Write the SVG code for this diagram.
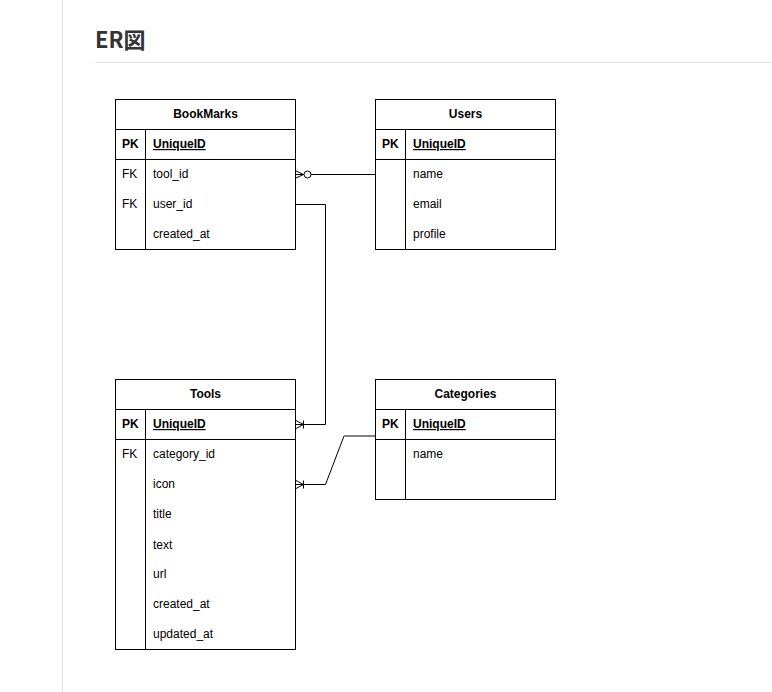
<svg xmlns="http://www.w3.org/2000/svg" width="772" height="692" viewBox="0 0 772 692">
<style>
.box{fill:#fff;stroke:#000;stroke-width:1}
.ln{stroke:#000;stroke-width:1;fill:none}
.t{font-family:"Liberation Sans",Arial,sans-serif;font-size:12px;fill:#000}
.b{font-weight:bold}
.h{font-family:"Liberation Sans",Arial,sans-serif;font-size:12px;font-weight:bold;fill:#000;text-anchor:middle}
.u{text-decoration:underline}
.edge{stroke:#000;stroke-width:1;fill:none}
</style>
<defs>
<marker id="zeroMany" markerUnits="userSpaceOnUse" markerWidth="20" markerHeight="12" refX="0" refY="6" orient="auto" viewBox="0 0 20 12" overflow="visible">
<path d="M0,2.5 L7.5,6 M0,9.5 L7.5,6 M0,6 L8,6" fill="none" stroke="#000" stroke-width="1"/>
<circle cx="11.5" cy="6" r="3.5" fill="#fff" stroke="#000" stroke-width="1"/>
</marker>
<marker id="oneMany" markerUnits="userSpaceOnUse" markerWidth="12" markerHeight="12" refX="0" refY="6" orient="auto" viewBox="0 0 12 12" overflow="visible">
<path d="M0,2 L7.5,6 M0,10 L7.5,6 M0,6 L12,6 M7.5,2 L7.5,10" fill="none" stroke="#000" stroke-width="1"/>
</marker>
</defs>
<rect width="772" height="692" fill="#fff"/>
<line x1="62.5" y1="0" x2="62.5" y2="692" stroke="#e1e4e8" stroke-width="1"/>
<text x="95" y="48" font-family="'Noto Sans CJK JP','Noto Sans',sans-serif" font-size="22" font-weight="bold" fill="#333">ER図</text>
<line x1="95" y1="62.5" x2="772" y2="62.5" stroke="#e1e4e8" stroke-width="1"/>

<g id="BookMarks">
<rect class="box" x="115.5" y="99.5" width="180" height="150"/>
<line class="ln" x1="115.5" y1="129.5" x2="295.5" y2="129.5"/>
<line class="ln" x1="115.5" y1="159.5" x2="295.5" y2="159.5"/>
<line class="ln" x1="145.5" y1="129.5" x2="145.5" y2="249.5"/>
<text class="h" x="205.5" y="118">BookMarks</text>
<text class="t b" x="122" y="148">PK</text>
<text class="t b u" x="153" y="148">UniqueID</text>
<text class="t" x="122" y="178">FK</text>
<text class="t" x="153" y="178">tool_id</text>
<text class="t" x="122" y="208">FK</text>
<text class="t" x="153" y="208">user_id</text>
<text class="t" x="153" y="238">created_at</text>
</g>

<g id="Users">
<rect class="box" x="375.5" y="99.5" width="180" height="150"/>
<line class="ln" x1="375.5" y1="129.5" x2="555.5" y2="129.5"/>
<line class="ln" x1="375.5" y1="159.5" x2="555.5" y2="159.5"/>
<line class="ln" x1="405.5" y1="129.5" x2="405.5" y2="249.5"/>
<text class="h" x="465.5" y="118">Users</text>
<text class="t b" x="382" y="148">PK</text>
<text class="t b u" x="413" y="148">UniqueID</text>
<text class="t" x="413" y="178">name</text>
<text class="t" x="413" y="208">email</text>
<text class="t" x="413" y="238">profile</text>
</g>

<g id="Tools">
<rect class="box" x="115.5" y="379.5" width="180" height="270"/>
<line class="ln" x1="115.5" y1="409.5" x2="295.5" y2="409.5"/>
<line class="ln" x1="115.5" y1="439.5" x2="295.5" y2="439.5"/>
<line class="ln" x1="145.5" y1="409.5" x2="145.5" y2="649.5"/>
<text class="h" x="205.5" y="398">Tools</text>
<text class="t b" x="122" y="428">PK</text>
<text class="t b u" x="153" y="428">UniqueID</text>
<text class="t" x="122" y="458">FK</text>
<text class="t" x="153" y="458">category_id</text>
<text class="t" x="153" y="488">icon</text>
<text class="t" x="153" y="518">title</text>
<text class="t" x="153" y="549">text</text>
<text class="t" x="153" y="578">url</text>
<text class="t" x="153" y="608">created_at</text>
<text class="t" x="153" y="638">updated_at</text>
</g>

<g id="Categories">
<rect class="box" x="375.5" y="379.5" width="180" height="120"/>
<line class="ln" x1="375.5" y1="409.5" x2="555.5" y2="409.5"/>
<line class="ln" x1="375.5" y1="439.5" x2="555.5" y2="439.5"/>
<line class="ln" x1="405.5" y1="409.5" x2="405.5" y2="499.5"/>
<text class="h" x="465.5" y="398">Categories</text>
<text class="t b" x="382" y="428">PK</text>
<text class="t b u" x="413" y="428">UniqueID</text>
<text class="t" x="413" y="458">name</text>
</g>

<g id="connectors">
<path class="edge" d="M296,174.5 L375,174.5" marker-start="url(#zeroMany)"/>
<path class="edge" d="M296,424.5 L325.5,424.5 L325.5,204.5 L296,204.5" marker-start="url(#oneMany)"/>
<path class="edge" d="M296,484.5 L325.5,484.5 L344,436" marker-start="url(#oneMany)"/>
<line x1="344" y1="436" x2="375" y2="436" stroke="#808080" stroke-width="2"/>
</g>
</svg>
